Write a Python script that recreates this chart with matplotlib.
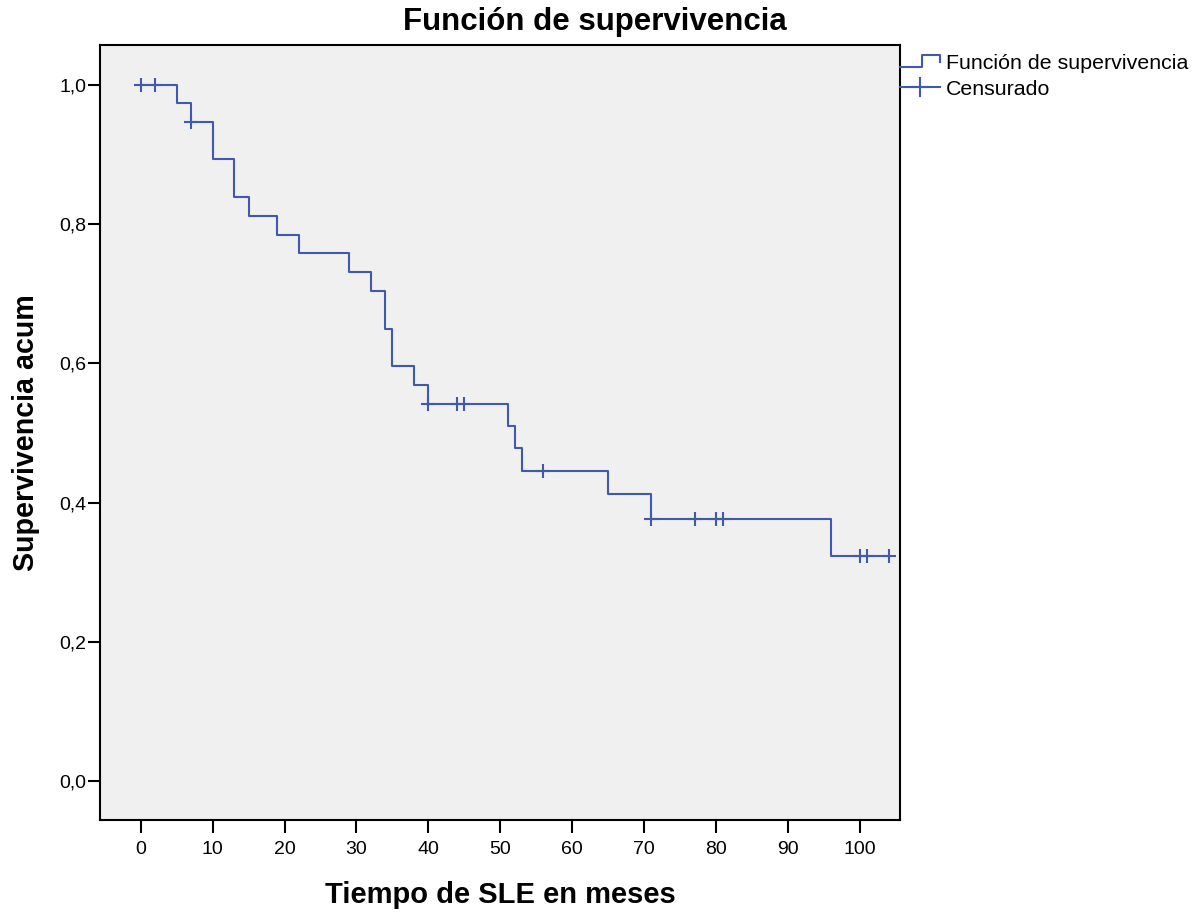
import numpy as np
import matplotlib.pyplot as plt
from matplotlib.lines import Line2D
from matplotlib.legend_handler import HandlerBase
from matplotlib.ticker import FuncFormatter

plt.rcParams['font.family'] = ['Liberation Sans', 'DejaVu Sans']

# Kaplan-Meier estimate: event times and survival after each event
event_times = [5, 7, 10, 13, 15, 19, 22, 29, 32, 34, 35, 38, 40, 51, 52, 53, 65, 71, 96]
surv_levels = [0.974, 0.947, 0.893, 0.839, 0.812, 0.785, 0.758, 0.731, 0.704, 0.650,
               0.596, 0.569, 0.542, 0.510, 0.478, 0.446, 0.412, 0.377, 0.323]
censored_times = [0, 2, 7, 40, 44, 45, 56, 71, 77, 80, 81, 100, 101, 104]
last_time = 104

LINE_COLOR = '#3F58B0'


def surv_at(t):
    idx = np.searchsorted(event_times, t, side='right')
    return 1.0 if idx == 0 else surv_levels[idx - 1]


class StepHandler(HandlerBase):
    def create_artists(self, legend, orig_handle, xdescent, ydescent,
                       width, height, fontsize, trans):
        x = np.array([0, 0.55, 0.55, 1.0, 1.0]) * width - xdescent
        y = np.array([0.1, 0.1, 0.9, 0.9, 0.45]) * height - ydescent
        ln = Line2D(x, y, color=LINE_COLOR, lw=1.5)
        ln.set_transform(trans)
        return [ln]


fig = plt.figure(figsize=(12.04, 9.13), dpi=100)
ax = fig.add_axes([0.083, 0.102, 0.6645, 0.8487])
ax.set_facecolor('#F0F0F0')

xs = [0] + event_times + [last_time]
ys = [1.0] + surv_levels + [surv_levels[-1]]
step_line, = ax.step(xs, ys, where='post', color=LINE_COLOR, lw=1.5)

cy = [surv_at(t) for t in censored_times]
cens, = ax.plot(censored_times, cy, ls='none', marker='+', markersize=10,
                markeredgewidth=1.5, color=LINE_COLOR)

ax.set_xlim(-5.66, 105.56)
ax.set_ylim(-0.056, 1.0575)
ax.set_xticks(np.arange(0, 101, 10))
ax.set_yticks(np.arange(0, 1.01, 0.2))
ax.yaxis.set_major_formatter(FuncFormatter(lambda v, p: f'{v:.1f}'.replace('.', ',')))
ax.tick_params(axis='x', length=9, width=1.5, labelsize=14, pad=6)
ax.tick_params(axis='y', length=9, width=1.5, labelsize=14, pad=0.5)
for sp in ax.spines.values():
    sp.set_linewidth(1.5)

fig.text(0.494, 0.976, 'Función de supervivencia', fontsize=22.5,
         fontweight='bold', ha='center', va='center')
ax.set_xlabel('Tiempo de SLE en meses', fontsize=21, fontweight='bold', labelpad=17)
ax.set_ylabel('Supervivencia acum', fontsize=20.6, fontweight='bold', labelpad=14)

cens_handle = Line2D([], [], color=LINE_COLOR, lw=1.5, marker='+',
                     markersize=14, markeredgewidth=1.5)
fig.legend([step_line, cens_handle], ['Función de supervivencia', 'Censurado'],
           handler_map={step_line: StepHandler()},
           loc='upper left', bbox_to_anchor=(0.7475, 0.941), frameon=False,
           fontsize=15.4, handlelength=1.85, handletextpad=0.3,
           labelspacing=0.33, borderaxespad=0, borderpad=0)

fig.savefig('out.png', dpi=100, facecolor='white')
